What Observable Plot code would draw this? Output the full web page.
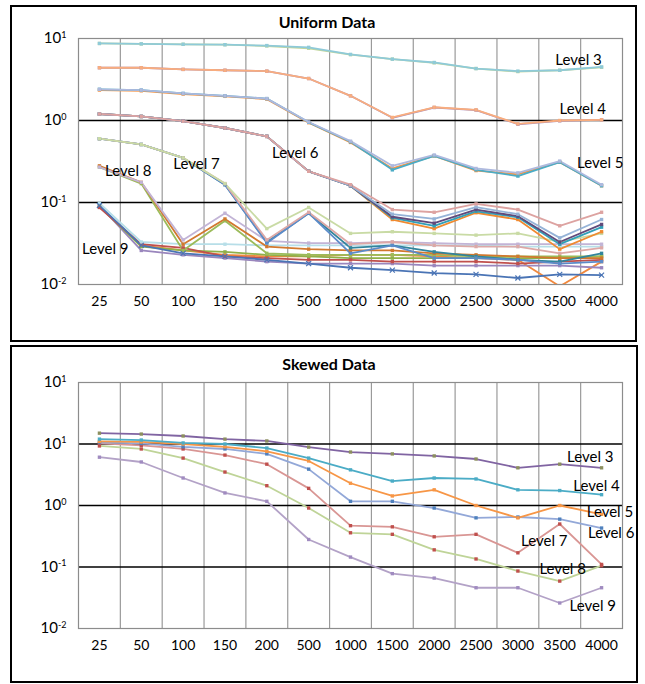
<!DOCTYPE html>
<html><head><meta charset="utf-8">
<script src="https://cdn.jsdelivr.net/npm/d3@7"></script>
<script src="https://cdn.jsdelivr.net/npm/@observablehq/plot@0.6"></script>
<style>
body{margin:0;background:#fff;font-family:Lato,"Liberation Sans",sans-serif;color:#000;}
#page{position:relative;width:645px;height:684px;overflow:hidden;}
.panel{position:absolute;border:2px solid #000;box-sizing:border-box;}
.title{position:absolute;width:160px;text-align:center;font-weight:bold;font-size:16px;line-height:18px;}
.ylab{position:absolute;width:160px;height:20px;line-height:20px;text-align:center;font-size:16px;white-space:pre;transform:rotate(-90deg);}
.xlab{position:absolute;width:160px;text-align:center;font-size:16px;line-height:18px;}
.chart{position:absolute;left:13px;}
</style></head><body>
<div id="page">
  <div class="panel" style="left:10px;top:5px;width:627px;height:337px"></div>
  <div class="panel" style="left:10px;top:345px;width:628px;height:338px"></div>
  <div class="title" style="left:247px;top:13px">Uniform Data</div>
  <div class="title" style="left:249px;top:355px">Skewed Data</div>
  <div class="ylab" style="left:-53px;top:145px">Error  rate  (%)</div>
  <div class="ylab" style="left:-53px;top:493px">Error  rate  (%)</div>
  <div class="xlab" style="left:249px;top:319px">Bucket width</div>
  <div class="xlab" style="left:249px;top:659px">Bucket width</div>
  <div class="chart" id="c1" style="top:28px"></div>
  <div class="chart" id="c2" style="top:372px"></div>
</div>
<script>
const buckets = ["25","50","100","150","200","500","1000","1500","2000","2500","3000","3500","4000"];

// Uniform data
const uL3a = [8.7,8.6,8.5,8.4,8.2,7.8,6.4,5.6,5.1,4.3,4.0,4.1,4.5];
const uL3b = [8.7,8.6,8.5,8.4,8.1,7.6,6.35,5.6,5.05,4.3,3.95,4.1,4.45];
const uL4a = [4.4,4.4,4.2,4.1,4.0,3.25,2.0,1.09,1.45,1.35,0.91,1.0,1.02];
const uL4b = [4.4,4.4,4.2,4.1,4.0,3.25,2.0,1.08,1.44,1.34,0.90,0.99,1.02];
const uL5a = [2.4,2.35,2.14,2.0,1.85,0.96,0.56,0.28,0.38,0.26,0.23,0.32,0.165];
const uL5b = [2.4,2.35,2.14,2.0,1.85,0.95,0.55,0.25,0.37,0.25,0.21,0.31,0.16];
const uL5c = [2.35,2.3,2.1,1.97,1.82,0.94,0.54,0.26,0.37,0.245,0.22,0.31,0.16];
const uL6a = [1.2,1.12,0.98,0.81,0.64,0.24,0.165,0.082,0.076,0.096,0.082,0.052,0.076];
const uL6b = [1.2,1.12,0.98,0.81,0.64,0.24,0.16,0.072,0.063,0.088,0.072,0.037,0.062];
const uL6c = [1.2,1.12,0.98,0.81,0.64,0.24,0.16,0.067,0.056,0.082,0.068,0.033,0.054];
const uL6d = [1.2,1.12,0.98,0.81,0.64,0.24,0.16,0.065,0.052,0.078,0.066,0.031,0.05];
const uL6e = [1.2,1.12,0.98,0.81,0.64,0.24,0.16,0.062,0.048,0.075,0.062,0.027,0.044];
const uL7a = [0.60,0.51,0.35,0.17,0.048,0.087,0.042,0.044,0.042,0.040,0.042,0.033,0.042];
const uL7b = [0.60,0.51,0.35,0.17,0.035,0.076,0.031,0.033,0.030,0.029,0.029,0.024,0.028];
const uL7c = [0.60,0.51,0.35,0.165,0.032,0.074,0.024,0.030,0.021,0.021,0.020,0.018,0.019];
const uL7d = [0.60,0.51,0.35,0.165,0.033,0.074,0.028,0.030,0.025,0.022,0.020,0.019,0.024];
const uL8a = [0.28,0.176,0.031,0.063,0.029,0.027,0.026,0.026,0.024,0.023,0.022,0.021,0.021];
const uL8b = [0.27,0.176,0.035,0.074,0.034,0.032,0.032,0.033,0.032,0.031,0.031,0.031,0.031];
const uL8c = [0.27,0.17,0.026,0.060,0.024,0.023,0.023,0.023,0.023,0.022,0.022,0.022,0.022];
const uL9a = [0.098,0.033,0.031,0.031,0.030,0.030,0.030,0.030,0.030,0.030,0.029,0.029,0.029];
const uL9b = [0.087,0.031,0.028,0.022,0.021,0.020,0.020,0.019,0.019,0.019,0.018,0.019,0.020];
const uL9c = [0.09,0.029,0.026,0.025,0.023,0.022,0.021,0.021,0.021,0.021,0.021,0.021,0.022];
const uL9d = [0.092,0.026,0.023,0.021,0.019,0.018,0.018,0.018,0.017,0.017,0.017,0.017,0.016];
const uL9e = [0.092,0.030,0.024,0.022,0.020,0.018,0.016,0.015,0.0138,0.0133,0.012,0.0133,0.013];
const uL9f = [0.09,0.030,0.026,0.023,0.022,0.022,0.023,0.023,0.022,0.021,0.020,0.0095,0.019];

// Skewed data
const sL3 = [15,14.5,13.5,12,11.2,8.9,7.4,6.9,6.4,5.7,4.1,4.7,4.1];
const sL4 = [12,11.6,10.4,10,8.6,5.9,3.8,2.5,2.8,2.7,1.8,1.75,1.5];
const sL5 = [11,10.8,10,9,7.6,5.3,2.3,1.43,1.8,1.0,0.63,1.0,0.72];
const sL6 = [10.6,10.2,9,8.3,6.9,3.9,1.17,1.17,0.91,0.63,0.65,0.6,0.43];
const sL7 = [10.2,9.5,8.3,6.6,4.7,1.9,0.47,0.45,0.31,0.34,0.17,0.5,0.11];
const sL8 = [9.3,8.3,5.9,3.5,2.1,0.91,0.36,0.34,0.19,0.135,0.086,0.059,0.105];
const sL9 = [6.1,5.1,2.8,1.6,1.17,0.28,0.145,0.078,0.066,0.046,0.046,0.026,0.046];

const uniTicks = [0.01, 0.1, 1, 10];
const uniTickLabels = ["10^-2","10^-1","10^0","10^1"];
const skwTicks = [0.01, 0.1, 1, 10, 100];
const skwTickLabels = ["10^-2","10^-1","10^0","10^1","10^1"];

const levelNames = ["Level 3","Level 4","Level 5","Level 6","Level 7","Level 8","Level 9"];
const uniLabelX = [11.45, 11.55, 11.97, 4.68, 2.32, 0.69, 0.14];
const uniLabelY = [5.5, 1.36, 0.30, 0.40, 0.29, 0.24, 0.027];
const skwLabelX = [11.73, 11.88, 12.2, 12.23, 10.63, 11.07, 11.79];
const skwLabelY = [6.1, 2.07, 0.78, 0.357, 0.26, 0.091, 0.023];

const uniSeries = [
  {id:"u9f", values:uL9f, color:"#F0883E"},
  {id:"u9d", values:uL9d, color:"#9A86BD"},
  {id:"u9c", values:uL9c, color:"#8FB04A"},
  {id:"u9b", values:uL9b, color:"#C0504D"},
  {id:"u9e", values:uL9e, color:"#4A74B5", sym:"times"},
  {id:"u9a", values:uL9a, color:"#B7DEE8"},
  {id:"u8c", values:uL8c, color:"#9BBB59"},
  {id:"u8a", values:uL8a, color:"#D2782E"},
  {id:"u8b", values:uL8b, color:"#C2B4D6"},
  {id:"u7d", values:uL7d, color:"#31859C"},
  {id:"u7c", values:uL7c, color:"#5B8BC9"},
  {id:"u7b", values:uL7b, color:"#DDA8A6"},
  {id:"u7a", values:uL7a, color:"#C9DBA5"},
  {id:"u6e", values:uL6e, color:"#F08A30"},
  {id:"u6d", values:uL6d, color:"#31A0B8"},
  {id:"u6c", values:uL6c, color:"#604A7B"},
  {id:"u6b", values:uL6b, color:"#95B3D7"},
  {id:"u6a", values:uL6a, color:"#DDA3A1"},
  {id:"u5c", values:uL5c, color:"#F79646"},
  {id:"u5b", values:uL5b, color:"#4BACC6"},
  {id:"u5a", values:uL5a, color:"#AEB9DE"},
  {id:"u4b", values:uL4b, color:"#A38CC0"},
  {id:"u4a", values:uL4a, color:"#F9AD7E"},
  {id:"u3b", values:uL3b, color:"#C3D69B"},
  {id:"u3a", values:uL3a, color:"#8ECAD9"}
];
const skwSeries = [
  {id:"s9", values:sL9, color:"#B3A2C7", mark:"#A08BC0"},
  {id:"s8", values:sL8, color:"#BFD498", mark:"#C0504D"},
  {id:"s7", values:sL7, color:"#D99694", mark:"#C0504D"},
  {id:"s6", values:sL6, color:"#93A8D8", mark:"#4F81BD"},
  {id:"s5", values:sL5, color:"#F79646", mark:"#F79646"},
  {id:"s4", values:sL4, color:"#4BACC6", mark:"#4BACC6"},
  {id:"s3", values:sL3, color:"#8064A2", mark:"#8C8F5E"}
];

function supers(node){
  node.querySelectorAll("text").forEach(t => {
    const m = /^10\^(-?\d)$/.exec(t.textContent);
    if (!m) return;
    t.textContent = "10";
    const ts = document.createElementNS("http://www.w3.org/2000/svg","tspan");
    ts.setAttribute("dy","-0.6em");
    ts.setAttribute("font-size","9px");
    ts.textContent = m[1];
    t.appendChild(ts);
    t.setAttribute("font-size","15px");
  });
}

function makeChart(series, domain, ticks, tickLabels, innerRules, lx, ly){
  const rows = series.flatMap(s => s.values.map((v, i) => ({id:s.id, i, v, color:s.color, mark:s.mark || s.color, sym:s.sym || "square"})));
  const sq = rows.filter(d => d.sym === "square");
  const tx = rows.filter(d => d.sym === "times");
  const labels = levelNames.map((t, k) => ({t, i:lx[k], v:ly[k]}));
  const node = Plot.plot({
    width: 622, height: 306,
    marginTop: 10, marginBottom: 50, marginLeft: 65, marginRight: 13,
    style: {fontFamily: "Lato, 'Liberation Sans', sans-serif", fontSize: "14px", background: "white", overflow: "visible", color: "#000"},
    x: {type: "linear", domain: [-0.5, buckets.length - 0.5], ticks: d3.range(buckets.length), tickFormat: i => buckets[i], tickSize: 0, tickPadding: 12, label: null},
    y: {type: "log", domain, ticks, tickFormat: d => tickLabels[ticks.indexOf(d)], tickSize: 0, tickPadding: 12, label: null},
    color: {type: "identity"},
    marks: [
      Plot.ruleX(d3.range(buckets.length - 1), {x: i => i + 0.5, stroke: "#9a9a9a", strokeWidth: 1.2}),
      Plot.ruleY(innerRules, {stroke: "#000", strokeWidth: 1.3}),
      Plot.frame({stroke: "#8c8c8c", strokeWidth: 1.2}),
      Plot.line(rows, {x: "i", y: "v", z: "id", stroke: "color", strokeWidth: 1.8, clip: true}),
      Plot.dot(sq, {x: "i", y: "v", symbol: "square", r: 1.9, fill: "mark", clip: true}),
      Plot.dot(tx, {x: "i", y: "v", symbol: "times", r: 2.4, stroke: "mark", strokeWidth: 1.2, clip: true}),
      Plot.text(labels, {x: "i", y: "v", text: "t", fontSize: 15, fill: "#000"})
    ]
  });
  supers(node);
  return node;
}

document.getElementById("c1").appendChild(makeChart(uniSeries, [0.01, 10], uniTicks, uniTickLabels, [0.1, 1], uniLabelX, uniLabelY));
document.getElementById("c2").appendChild(makeChart(skwSeries, [0.01, 100], skwTicks, skwTickLabels, [0.1, 1, 10], skwLabelX, skwLabelY));
</script>
</body></html>
